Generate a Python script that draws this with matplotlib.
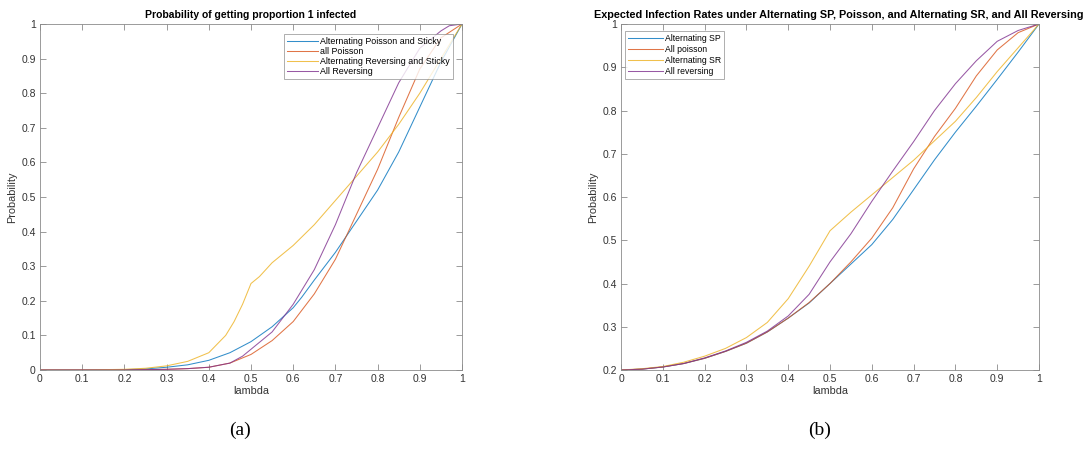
import matplotlib
matplotlib.use("Agg")
import matplotlib.pyplot as plt
import numpy as np

plt.rcParams['font.family'] = ['Liberation Sans', 'DejaVu Sans']

# ---- Panel (a) data ----
a_title = "Probability of getting proportion 1 infected"
a_labels = ["Alternating Poisson and Sticky", "all Poisson",
            "Alternating Reversing and Sticky", "All Reversing"]
a_x_blue = [0, 0.1, 0.2, 0.25, 0.3, 0.35, 0.4, 0.45, 0.5, 0.55, 0.6, 0.62, 0.65, 0.7, 0.75, 0.8, 0.85, 0.9, 0.95, 1.0]
a_blue = [0, 0, 0.001, 0.003, 0.008, 0.015, 0.028, 0.05, 0.082, 0.125, 0.18, 0.21, 0.26, 0.34, 0.43, 0.52, 0.63, 0.76, 0.89, 1.0]
a_x_red = [0, 0.1, 0.2, 0.3, 0.35, 0.4, 0.45, 0.5, 0.55, 0.6, 0.65, 0.7, 0.75, 0.8, 0.85, 0.9, 0.95, 1.0]
a_red = [0, 0, 0, 0.002, 0.004, 0.008, 0.02, 0.045, 0.085, 0.14, 0.22, 0.32, 0.45, 0.58, 0.73, 0.87, 0.96, 1.0]
a_x_yellow = [0, 0.1, 0.2, 0.25, 0.3, 0.35, 0.4, 0.44, 0.46, 0.48, 0.5, 0.52, 0.55, 0.6, 0.65, 0.7, 0.75, 0.8, 0.85, 0.9, 0.95, 1.0]
a_yellow = [0, 0, 0.002, 0.005, 0.012, 0.025, 0.05, 0.1, 0.14, 0.19, 0.25, 0.27, 0.31, 0.36, 0.42, 0.49, 0.56, 0.63, 0.71, 0.80, 0.90, 1.0]
a_x_purple = [0, 0.1, 0.2, 0.3, 0.35, 0.4, 0.45, 0.48, 0.5, 0.55, 0.6, 0.65, 0.7, 0.75, 0.8, 0.85, 0.9, 0.95, 0.97, 1.0]
a_purple = [0, 0, 0, 0.002, 0.004, 0.008, 0.02, 0.04, 0.06, 0.11, 0.19, 0.29, 0.42, 0.57, 0.70, 0.83, 0.93, 0.98, 0.995, 1.0]

# ---- Panel (b) data ----
b_title = "Expected Infection Rates under Alternating SP, Poisson, and Alternating SR, and All Reversing"
b_labels = ["Alternating SP", "All poisson", "Alternating SR", "All reversing"]
b_x = [0, 0.05, 0.1, 0.15, 0.2, 0.25, 0.3, 0.35, 0.4, 0.45, 0.5, 0.55, 0.6, 0.65, 0.7, 0.75, 0.8, 0.85, 0.9, 0.95, 1.0]
b_blue = [0.2, 0.202, 0.207, 0.215, 0.227, 0.243, 0.262, 0.288, 0.32, 0.355, 0.40, 0.445, 0.49, 0.548, 0.617, 0.686, 0.75, 0.81, 0.872, 0.935, 1.0]
b_red = [0.2, 0.202, 0.207, 0.215, 0.227, 0.243, 0.262, 0.288, 0.32, 0.356, 0.40, 0.45, 0.505, 0.575, 0.665, 0.74, 0.805, 0.88, 0.94, 0.98, 1.0]
b_yellow = [0.2, 0.203, 0.208, 0.218, 0.232, 0.25, 0.275, 0.31, 0.365, 0.44, 0.522, 0.565, 0.605, 0.645, 0.685, 0.73, 0.775, 0.83, 0.89, 0.945, 1.0]
b_purple = [0.2, 0.202, 0.207, 0.215, 0.228, 0.244, 0.264, 0.29, 0.325, 0.375, 0.45, 0.515, 0.59, 0.66, 0.728, 0.80, 0.862, 0.915, 0.96, 0.985, 1.0]

colors = ['#0072BD', '#D95319', '#EDB120', '#7E2F8E']

fig = plt.figure(figsize=(10.84, 4.53), dpi=100)
ax1 = fig.add_axes([0.0369, 0.1832, 0.3893, 0.7638])
ax2 = fig.add_axes([0.5729, 0.1832, 0.3856, 0.7638])

def style(ax):
    for s in ax.spines.values():
        s.set_color('#8a8a8a')
        s.set_linewidth(0.6)
    ax.tick_params(direction='in', top=True, right=True, length=4, width=0.6,
                   colors='#8a8a8a', labelcolor='#333333', labelsize=7.5, pad=3)
    ax.set_xlim(0, 1)
    ax.set_xticks(np.arange(0, 1.01, 0.1))
    ax.set_xticklabels(['0'] + ['%.1f' % v for v in np.arange(0.1, 0.95, 0.1)] + ['1'])
    ax.set_xlabel('lambda', fontsize=7.8, color='#333333', labelpad=1)
    ax.set_ylabel('Probability', fontsize=7.8, color='#333333', labelpad=3)

lw = 0.75
al = 0.8
ax1.plot(a_x_blue, a_blue, color=colors[0], lw=lw, alpha=al, label=a_labels[0])
ax1.plot(a_x_red, a_red, color=colors[1], lw=lw, alpha=al, label=a_labels[1])
ax1.plot(a_x_yellow, a_yellow, color=colors[2], lw=lw, alpha=al, label=a_labels[2])
ax1.plot(a_x_purple, a_purple, color=colors[3], lw=lw, alpha=al, label=a_labels[3])
style(ax1)
ax1.set_ylim(0, 1)
ax1.set_yticks(np.arange(0, 1.01, 0.1))
ax1.set_yticklabels(['0'] + ['%.1f' % v for v in np.arange(0.1, 0.95, 0.1)] + ['1'])
ax1.set_title(a_title, fontsize=7.5, fontweight='bold', pad=4)
leg1 = ax1.legend(loc='upper right', bbox_to_anchor=(0.979, 0.971), fontsize=6.4, frameon=True,
                  fancybox=False, edgecolor='#8a8a8a', handlelength=3.4, handletextpad=0.3,
                  labelspacing=0.12, borderpad=0.35, borderaxespad=0)
leg1.get_frame().set_linewidth(0.6)

ax2.plot(b_x, b_blue, color=colors[0], lw=lw, alpha=al, label=b_labels[0])
ax2.plot(b_x, b_red, color=colors[1], lw=lw, alpha=al, label=b_labels[1])
ax2.plot(b_x, b_yellow, color=colors[2], lw=lw, alpha=al, label=b_labels[2])
ax2.plot(b_x, b_purple, color=colors[3], lw=lw, alpha=al, label=b_labels[3])
style(ax2)
ax2.set_ylim(0.2, 1)
ax2.set_yticks(np.arange(0.2, 1.01, 0.1))
ax2.set_yticklabels(['%.1f' % v for v in np.arange(0.2, 0.95, 0.1)] + ['1'])
ax2.set_title(b_title, fontsize=7.8, fontweight='bold', pad=4, x=0.52)
leg2 = ax2.legend(loc='upper left', bbox_to_anchor=(0.01, 0.98), fontsize=6.2, frameon=True,
                  fancybox=False, edgecolor='#8a8a8a', handlelength=4.0, handletextpad=0.3,
                  labelspacing=0.25, borderpad=0.35, borderaxespad=0)
leg2.get_frame().set_linewidth(0.6)

fig.text(0.2214, 0.05, '(a)', ha='center', va='center', fontsize=14, family=['Liberation Serif'])
fig.text(0.7565, 0.05, '(b)', ha='center', va='center', fontsize=14, family=['Liberation Serif'])

fig.savefig('out.png', dpi=100)
